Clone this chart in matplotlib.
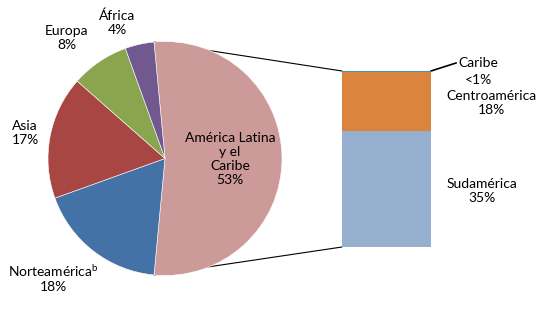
import matplotlib
matplotlib.use("Agg")
import matplotlib.pyplot as plt
from matplotlib.patches import ConnectionPatch
import numpy as np

# ---- data ----
pie_labels = ["América Latina\ny el\nCaribe", "Norteamérica", "Asia", "Europa", "África"]
pie_values = [53, 18, 17, 8, 4]
pie_pct_text = ["53%", "18%", "17%", "8%", "4%"]
pie_colors = ["#CC9A98", "#4472A6", "#A84644", "#89A54E", "#71588F"]

bar_labels = ["Sudamérica", "Centroamérica", "Caribe"]
bar_values = [35, 18, 0.3]
bar_pct_text = ["35%", "18%", "<1%"]
bar_colors = ["#95AFCF", "#DB843D", "#4198AF"]

plt.rcParams['font.family'] = ['Lato', 'DejaVu Sans']
plt.rcParams['mathtext.fontset'] = 'custom'
plt.rcParams['mathtext.rm'] = 'Lato'
FS = 10

W, H = 554, 310
fig = plt.figure(figsize=(W / 100, H / 100), dpi=100)
ax = fig.add_axes([0, 0, 1, 1])

cx, cy, R = 165, 151.5, 117
start = pie_values[0] / 100 * 360 / 2
wedges, _ = ax.pie(pie_values, colors=pie_colors, startangle=start, counterclock=False,
                   center=(cx, cy), radius=R,
                   wedgeprops=dict(edgecolor="white", linewidth=0.4))
ax.set_xlim(0, W)
ax.set_ylim(0, H)
ax.set_aspect('equal')
ax.axis('off')

# bar axes
bx0, by0, bw, bh = 342, 63, 89, 176
bax = fig.add_axes([bx0 / W, by0 / H, bw / W, bh / H])
bottom = 0
for v, c in zip(bar_values, bar_colors):
    bax.bar(0, v, bottom=bottom, width=1.0, color=c, edgecolor="none")
    bottom += v
bax.set_xlim(-0.5, 0.5)
bax.set_ylim(0, sum(bar_values))
bax.axis('off')

# connection lines from LA wedge edges to the bar corners
w = wedges[0]
for ang, yb in [(w.theta2, 1), (w.theta1, 0)]:
    a = np.deg2rad(ang)
    pt = (cx + R * np.cos(a), cy + R * np.sin(a))
    con = ConnectionPatch(xyA=pt, coordsA=ax.transData, xyB=(0, yb), coordsB=bax.transAxes,
                          color="black", linewidth=0.8, zorder=0)
    ax.add_artist(con)

kw = dict(ha="center", va="center", ma="center", fontsize=FS)
# pie labels
ax.text(230, 151, pie_labels[0] + "\n" + pie_pct_text[0], **kw)
ax.text(53, 32.5, pie_labels[1] + r"$^{\mathrm{b}}$" + "\n" + pie_pct_text[1], **kw)
ax.text(25, 177.5, pie_labels[2] + "\n" + pie_pct_text[2], **kw)
ax.text(67, 272, pie_labels[3] + "\n" + pie_pct_text[3], **kw)
ax.text(117, 287, pie_labels[4] + "\n" + pie_pct_text[4], **kw)

# bar labels
ax.text(482, 119, bar_labels[0] + "\n" + bar_pct_text[0], **kw)
ax.text(491, 207.5, bar_labels[1] + "\n" + bar_pct_text[1], **kw)
ax.plot([431, 456], [239, 247], color="black", linewidth=1.2)
ax.text(458, 247, bar_labels[2], ha="left", va="center", fontsize=FS)
ax.text(479, 230, bar_pct_text[2], ha="center", va="center", fontsize=FS)

fig.savefig("out.png", dpi=100)
